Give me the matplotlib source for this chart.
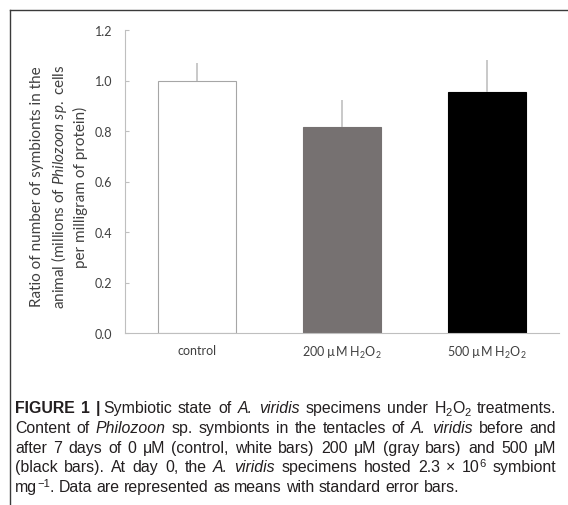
import matplotlib
matplotlib.use("Agg")
import matplotlib.pyplot as plt
from matplotlib.lines import Line2D
import numpy as np

plt.rcParams['font.family'] = ['Lato', 'DejaVu Sans']
plt.rcParams['mathtext.fontset'] = 'custom'
plt.rcParams['mathtext.rm'] = 'Lato'
plt.rcParams['mathtext.it'] = 'Lato:italic'

# data
categories = ["control", "200 µM H$_2$O$_2$", "500 µM H$_2$O$_2$"]
means = [1.0, 0.815, 0.955]
errors = [0.068, 0.108, 0.125]
bar_colors = ["white", "#767171", "black"]
edge_colors = ["#a6a6a6", "#767171", "black"]
yticks = [0.0, 0.2, 0.4, 0.6, 0.8, 1.0, 1.2]

W, H = 568, 506
fig = plt.figure(figsize=(W / 100, H / 100), dpi=100)


def fx(px):
    return px / W


def fy(py):
    return 1 - py / H


# frame lines (top and left)
fig.add_artist(Line2D([fx(10), 1], [fy(11), fy(11)], color="#3a3a3a", lw=1.0))
fig.add_artist(Line2D([fx(10), fx(10)], [fy(11), 0], color="#3a3a3a", lw=1.0))

ax = fig.add_axes([fx(125), fy(334), fx(559 - 125), (334 - 31) / H])
x = np.arange(len(categories))
ax.bar(x, means, width=0.54, color=bar_colors, edgecolor=edge_colors,
       linewidth=0.8, zorder=2)
ax.errorbar(x, means, yerr=[np.zeros(len(errors)), errors], fmt="none",
            ecolor="#c0c0c0", elinewidth=1.2, capsize=0, zorder=3)

ax.set_xlim(-0.5, 2.5)
ax.set_ylim(0, 1.2)
ax.set_yticks(yticks)
ax.set_yticklabels([f"{v:.1f}" for v in yticks])
ax.set_xticks(x)
ax.set_xticklabels(categories)
for s in ["top", "right"]:
    ax.spines[s].set_visible(False)
for s in ["left", "bottom"]:
    ax.spines[s].set_color("#bfbfbf")
    ax.spines[s].set_linewidth(0.8)
ax.tick_params(axis="y", direction="in", length=3, color="#bfbfbf",
               labelsize=9, labelcolor="#404040", pad=9)
ax.tick_params(axis="x", length=0, labelsize=9, labelcolor="#404040", pad=8)

fig.text(fx(59), fy(187),
         "Ratio of number of symbionts in the\n"
         "animal (millions of $\\it{Philozoon\\ sp.}$ cells\n"
         "per milligram of protein)",
         rotation=90, ha="center", va="center", multialignment="center",
         fontsize=11, color="#404040", linespacing=1.32)

# caption
cap_font = ["Liberation Sans", "DejaVu Sans"]
cap_size = 11.4
cap_color = "#231f20"
caption = [
    ([[("FIGURE", "b")], [("1", "b")], [("|", "b"), ("Symbiotic", "n")], [("state", "n")],
      [("of", "n")], [("A.", "i")], [("viridis", "i")], [("specimens", "n")], [("under", "n")],
      [("H", "n"), ("2", "sub"), ("O", "n"), ("2", "sub")], [("treatments.", "n")]], True),
    ([[("Content", "n")], [("of", "n")], [("Philozoon", "i")], [("sp.", "n")], [("symbionts", "n")],
      [("in", "n")], [("the", "n")], [("tentacles", "n")], [("of", "n")], [("A.", "i")],
      [("viridis", "i")], [("before", "n")], [("and", "n")]], True),
    ([[(w, "n")] for w in "after 7 days of 0 μM (control, white bars) 200 μM (gray bars) and 500 μM".split()], True),
    ([[(w, "n")] for w in "(black bars). At day 0, the".split()]
     + [[("A.", "i")], [("viridis", "i")]]
     + [[(w, "n")] for w in "specimens hosted 2.3 ×".split()]
     + [[("10", "n"), ("6", "sup")], [("symbiont", "n")]], True),
    ([[("mg", "n"), ("−1", "sup"), (".", "n")]]
     + [[(w, "n")] for w in "Data are represented as means with standard error bars.".split()], False),
]
line_y = [413, 433, 453, 472, 492]
x_left, x_right = 15, 556

fig.canvas.draw()
renderer = fig.canvas.get_renderer()


def seg_props(style):
    size = cap_size
    weight = "normal"
    fstyle = "normal"
    dy = 0
    if style == "b":
        weight = "bold"
    if style == "i":
        fstyle = "italic"
    if style == "sub":
        size = cap_size * 0.7
        dy = -3
    if style == "sup":
        size = cap_size * 0.7
        dy = 5
    return size, weight, fstyle, dy


def seg_width(s, style):
    size, weight, fstyle, dy = seg_props(style)
    t = fig.text(0, 0, s, fontsize=size, weight=weight, style=fstyle, family=cap_font)
    w = t.get_window_extent(renderer).width
    t.remove()
    return w


space_w = seg_width("a a", "n") - seg_width("aa", "n")

for (words, justify), ly in zip(caption, line_y):
    widths = [[seg_width(s, st) for s, st in word] for word in words]
    total = sum(sum(ws) for ws in widths)
    bar_extra = space_w * 0.6 if words[2][0][0] == "|" else 0
    if justify:
        gap = (x_right - x_left - total - bar_extra) / (len(words) - 1)
    else:
        gap = space_w
    cx = x_left
    for i, (word, ws) in enumerate(zip(words, widths)):
        for (s, st), w in zip(word, ws):
            size, weight, fstyle, dy = seg_props(st)
            fig.text(fx(cx), fy(ly - dy), s, fontsize=size, weight=weight, style=fstyle,
                     family=cap_font, color=cap_color, ha="left", va="baseline")
            cx += w
            if s == "|":
                cx += space_w * 0.6
        cx += gap

fig.savefig("out.png", dpi=100)
